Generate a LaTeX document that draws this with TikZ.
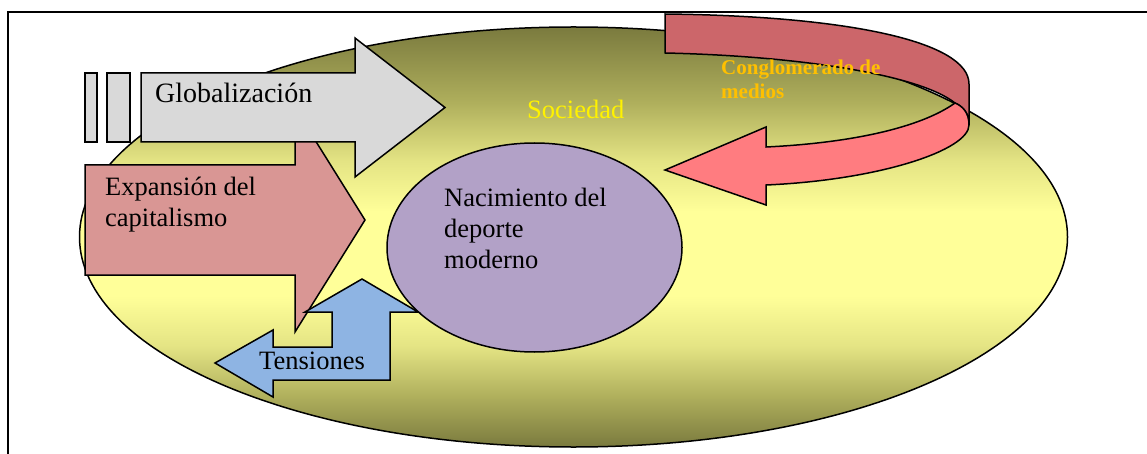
\documentclass[tikz,border=0pt]{standalone}
\usepackage{fontspec}
\setmainfont{Liberation Serif}
\definecolor{olv}{RGB}{122,122,62}
\definecolor{olvb}{RGB}{175,175,92}
\definecolor{olvc}{RGB}{228,228,132}
\definecolor{ylw}{RGB}{255,255,153}
\definecolor{grayf}{RGB}{217,217,217}
\definecolor{pinkf}{RGB}{217,150,148}
\definecolor{bluef}{RGB}{142,180,227}
\definecolor{purpf}{RGB}{178,161,199}
\definecolor{curvdark}{RGB}{204,102,106}
\definecolor{curvlight}{RGB}{255,124,128}
\definecolor{orangeC}{RGB}{255,192,0}
\pgfdeclareverticalshading{socshade}{100bp}{color(0bp)=(olv); color(25bp)=(olv); color(31bp)=(olvb); color(37bp)=(olvc); color(43bp)=(ylw); color(53bp)=(ylw); color(59bp)=(olvc); color(66bp)=(olvb); color(75bp)=(olv); color(100bp)=(olv)}
\begin{document}
\begin{tikzpicture}[x=1pt,y=-1pt,
  shp/.style={draw=black, line width=1.5pt, line join=miter},
  lbl/.style={inner sep=0pt, anchor=base west, align=left, font=\fontsize{26.5}{31}\selectfont}]
\useasboundingbox (0,0) rectangle (1147,454);
\fill[white] (0,0) rectangle (1147,454);
\draw[line width=1.4pt] (1147,12) -- (8,12) -- (8,454);

% Sociedad ellipse
\path[shp, shading=socshade] (573.5,237) ellipse [x radius=494pt, y radius=210pt];
% Nacimiento ellipse
\path[shp, fill=purpf] (534.5,247.5) ellipse [x radius=147.5pt, y radius=104.5pt];

% Expansion arrow
\draw[shp, fill=pinkf] (85,165) -- (295,165) -- (295,108) -- (365,220) -- (295,332) -- (295,275) -- (85,275) -- cycle;
% Globalizacion arrow
\draw[shp, fill=grayf] (141,73) -- (355,73) -- (355,38) -- (445,107.5) -- (355,177) -- (355,142) -- (141,142) -- cycle;
\draw[shp, fill=grayf] (85,73) rectangle (97,142);
\draw[shp, fill=grayf] (107,73) rectangle (130,142);
% Tensiones arrow
\draw[shp, fill=bluef] (215,363) -- (273,330) -- (273,347) -- (332,347) -- (332,312) -- (305,312) -- (362,279) -- (418,312) -- (390,312) -- (390,380) -- (273,380) -- (273,397) -- cycle;

% curved arrow: back part
\draw[shp, fill=curvdark] (665,14) .. controls (850,16) and (969,42) .. (969,84) -- (969,125)
  .. controls (969,112) and (962,106) .. (955,103)
  .. controls (920,75) and (800,56) .. (665,53) -- cycle;
% curved arrow: front part
\draw[shp, fill=curvlight] (955,103) .. controls (920,128) and (850,143) .. (766,147) -- (766,127) -- (665,170) -- (766,205) -- (766,185)
  .. controls (880,180) and (969,150) .. (969,125)
  .. controls (969,112) and (962,106) .. (955,103) -- cycle;

% texts (base anchor = baseline of last line)
\node[lbl, font=\fontsize{28}{32}\selectfont] (glob) at (155,103) {Globalización};
\node[lbl] (exp) at (105,226) {Expansión del\\capitalismo};
\node[lbl] (nac) at (444,268) {Nacimiento del\\deporte\\moderno};
\node[lbl] (ten) at (259,369) {Tensiones};
\node[lbl, text=yellow] (soc) at (527,119) {Sociedad};
\node[lbl, font=\bfseries\fontsize{21}{23.5}\selectfont, text=orangeC] (cong) at (721,98.5) {Conglomerado de\\medios};
\end{tikzpicture}
\end{document}
